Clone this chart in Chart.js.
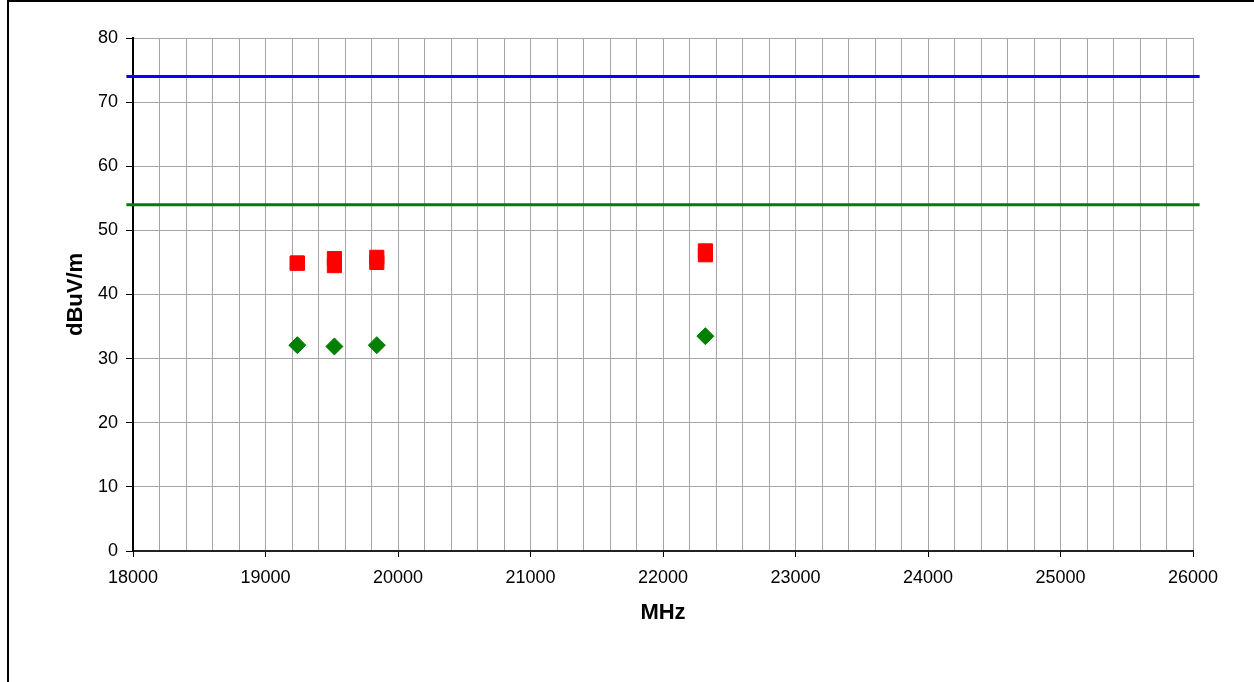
<!DOCTYPE html>
<html>
<head>
<meta charset="utf-8">
<script src="https://cdn.jsdelivr.net/npm/chart.js@4/dist/chart.umd.min.js"></script>
<style>
  body { margin: 0; background: #fff; }
  #frame { position: absolute; left: 7px; top: 0; width: 1247px; height: 682px;
           border-top: 2px solid #000; border-left: 2px solid #000; box-sizing: border-box; }
  #chart { position: absolute; left: 0; top: 0; }
</style>
</head>
<body>
<div id="frame"></div>
<canvas id="chart" width="1254" height="682"></canvas>
<script>
// measured frequencies (MHz)
const freqs = [19240, 19520, 19840, 22320];
// peak readings, two polarisations (dBuV/m)
const peakA = [44.9, 45.6, 45.8, 46.8];
const peakB = [44.9, 44.5, 45.0, 46.2];
// average readings (dBuV/m)
const average = [32.1, 31.9, 32.1, 33.5];
// limit lines
const limitX = [17950, 26050];
const peakLimit = 74;
const avgLimit = 54;

const yTicks = [0, 10, 20, 30, 40, 50, 60, 70, 80];

function pts(ys) {
  return freqs.map((f, i) => ({ x: f, y: ys[i] }));
}
function flat(v) {
  return limitX.map(x => ({ x: x, y: v }));
}

const fontFamily = "'Liberation Sans', Arial, sans-serif";

let ctx = document.getElementById('chart').getContext('2d');
let chart = new Chart(ctx, {
  type: 'scatter',
  data: {
    datasets: [{
      type: 'line',
      label: 'Peak limit',
      data: flat(peakLimit),
      borderColor: '#0000ff',
      borderWidth: 3,
      pointRadius: 0,
      clip: false
    }, {
      type: 'line',
      label: 'Average limit',
      data: flat(avgLimit),
      borderColor: '#008000',
      borderWidth: 3,
      pointRadius: 0,
      clip: false
    }, {
      label: 'Peak A',
      data: pts(peakA),
      pointStyle: 'rect',
      pointRadius: 10,
      backgroundColor: '#ff0000',
      borderColor: '#ff0000',
      borderWidth: 1
    }, {
      label: 'Peak B',
      data: pts(peakB),
      pointStyle: 'rect',
      pointRadius: 10,
      backgroundColor: '#ff0000',
      borderColor: '#ff0000',
      borderWidth: 1
    }, {
      label: 'Average',
      data: pts(average),
      pointStyle: 'rectRot',
      pointRadius: 8.5,
      backgroundColor: '#008000',
      borderColor: '#008000',
      borderWidth: 1
    }]
  },
  options: {
    responsive: false,
    devicePixelRatio: 1,
    animation: false,
    layout: { padding: { top: 38, right: 61, left: 0, bottom: 0 } },
    plugins: { legend: { display: false }, tooltip: { enabled: false } },
    scales: {
      x: {
        type: 'linear',
        min: 18000,
        max: 26000,
        afterFit: s => { s.height = 131; },
        ticks: {
          stepSize: 200,
          autoSkip: false,
          maxRotation: 0,
          padding: 10,
          color: '#000',
          font: { family: fontFamily, size: 18 },
          callback: v => (v % 1000 === 0 ? String(v) : '')
        },
        grid: {
          color: '#a6a6a6',
          lineWidth: 1,
          tickLength: 6,
          tickColor: c => (c.tick && c.tick.value % 1000 === 0 ? '#000' : 'rgba(0,0,0,0)')
        },
        border: { color: '#222', width: 2 },
        title: {
          display: true,
          text: 'MHz',
          color: '#000',
          font: { family: fontFamily, size: 22, weight: 'bold' },
          padding: { top: 0, bottom: 56 }
        }
      },
      y: {
        min: 0,
        max: 80,
        afterFit: s => { s.width = 133; },
        afterBuildTicks: s => { s.ticks = yTicks.map(v => ({ value: v })); },
        ticks: {
          padding: 8,
          color: '#000',
          font: { family: fontFamily, size: 18 }
        },
        grid: {
          color: '#a6a6a6',
          lineWidth: 1,
          tickLength: 7,
          tickColor: '#000'
        },
        border: { color: '#000', width: 2 },
        title: {
          display: true,
          text: 'dBuV/m',
          color: '#000',
          font: { family: fontFamily, size: 22, weight: 'bold' },
          padding: { top: 63, bottom: 0 }
        }
      }
    }
  }
});
</script>
</body>
</html>
